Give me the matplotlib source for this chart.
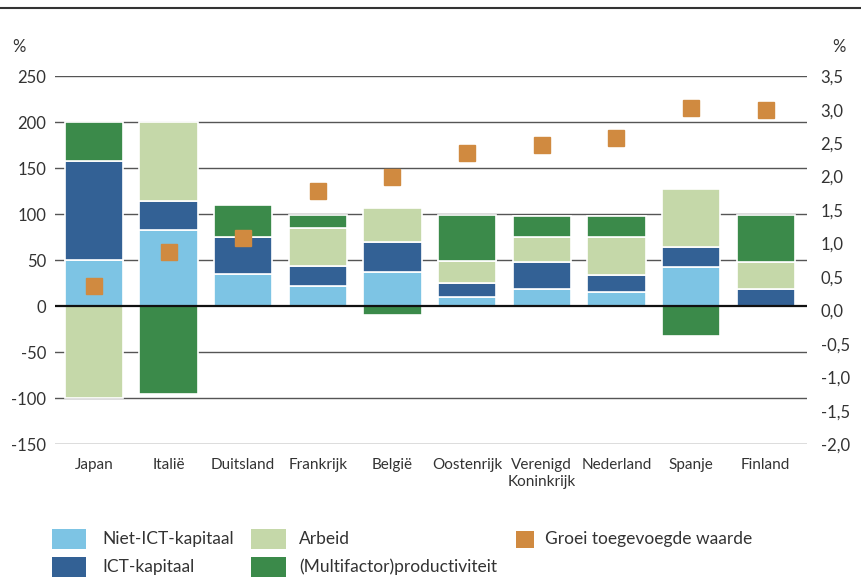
import numpy as np
import matplotlib
matplotlib.use("Agg")
import matplotlib.pyplot as plt
from matplotlib.patches import Rectangle
from matplotlib.lines import Line2D

plt.rcParams['font.family'] = ['Lato', 'DejaVu Sans']
plt.rcParams['axes.unicode_minus'] = False

landen = ['Japan', 'Italië', 'Duitsland', 'Frankrijk', 'België', 'Oostenrijk',
          'Verenigd\nKoninkrijk', 'Nederland', 'Spanje', 'Finland']

# bijdragen (%), linker as
niet_ict = [50, 83, 35, 22, 37, 10, 19, 16, 43, 0]
ict = [108, 31, 40, 22, 33, 15, 29, 18, 21, 19]
arbeid = [-100, 86, 0, 41, 37, 24, 27, 41, 63, 29]
productiviteit = [42, -95, 35, 14, -9, 50, 23, 23, -32, 51]

# groei toegevoegde waarde (%), rechter as
groei = [0.36, 0.88, 1.08, 1.78, 1.99, 2.35, 2.47, 2.57, 3.02, 2.99]

series = [('Niet-ICT-kapitaal', niet_ict, '#7DC4E4'),
          ('ICT-kapitaal', ict, '#336195'),
          ('Arbeid', arbeid, '#C5D8A9'),
          ('(Multifactor)productiviteit', productiviteit, '#3B8A4A')]
oranje = '#D08A40'
tekst = '#333333'

W, H = 861, 577
fig = plt.figure(figsize=(W / 100, H / 100), dpi=100)
ax1 = fig.add_axes([0.064, 0.230, 0.873, 0.638])
ax2 = ax1.twinx()

x = np.arange(len(landen))
pos = np.zeros(len(landen))
neg = np.zeros(len(landen))
for naam, vals, kleur in series:
    v = np.array(vals, dtype=float)
    bottom = np.where(v >= 0, pos, neg)
    ax1.bar(x, v, 0.78, bottom=bottom, color=kleur, edgecolor='white',
            linewidth=1.2, zorder=3)
    pos = pos + np.where(v >= 0, v, 0)
    neg = neg + np.where(v < 0, v, 0)

ax2.plot(x, groei, 's', color=oranje, markersize=12, zorder=5)

ax1.set_ylim(-150, 250)
ax1.set_yticks(np.arange(-150, 251, 50))
ax1.set_xlim(-0.52, 9.55)
ax1.set_xticks(x)
ax1.set_xticklabels(landen, fontsize=11, color=tekst, linespacing=1.25)
for yv in np.arange(-150, 251, 50):
    if yv == 0:
        ax1.axhline(0, color='#111111', linewidth=1.6, zorder=4)
    else:
        ax1.axhline(yv, color='#555555', linewidth=1.0, zorder=1)

ax2.set_ylim(-2.0, 3.5)
ax2.set_yticks(np.arange(-2.0, 3.51, 0.5))
ax2.set_yticklabels([f'{t:.1f}'.replace('.', ',') for t in np.arange(-2.0, 3.51, 0.5)])

for a in (ax1, ax2):
    for s in a.spines.values():
        s.set_visible(False)
    a.tick_params(length=0, labelsize=12, colors=tekst)
ax1.tick_params(axis='y', pad=6.5)
ax1.tick_params(axis='x', pad=10, labelsize=11)
ax2.tick_params(axis='y', pad=10)

fig.text(12 / W, 1 - 47 / H, '%', fontsize=12, color=tekst, va='center')
fig.text(832 / W, 1 - 47 / H, '%', fontsize=12, color=tekst, va='center')

# lijn bovenaan
fig.add_artist(Line2D([0, 1], [1 - 8 / H, 1 - 8 / H], color='#333333',
                      linewidth=1.5, transform=fig.transFigure))

# legenda, handmatig geplaatst (pixels)
def vak(x0, y0, w, h, kleur):
    fig.add_artist(Rectangle((x0 / W, 1 - (y0 + h) / H), w / W, h / H,
                             facecolor=kleur, edgecolor='none',
                             transform=fig.transFigure))

leg = [(52, 529, 34, 20, series[0][2], series[0][0], 102, 539),
       (52, 557, 34, 20, series[1][2], series[1][0], 102, 567),
       (251, 529, 35, 20, series[2][2], series[2][0], 299, 539),
       (251, 557, 35, 20, series[3][2], series[3][0], 299, 567),
       (516, 531, 18, 17, oranje, 'Groei toegevoegde waarde', 545, 539)]
for x0, y0, w, h, kleur, lab, tx, ty in leg:
    vak(x0, y0, w, h, kleur)
    fig.text(tx / W, 1 - ty / H, lab, fontsize=12.5, color=tekst, va='center')

fig.savefig('out.png', dpi=100)
